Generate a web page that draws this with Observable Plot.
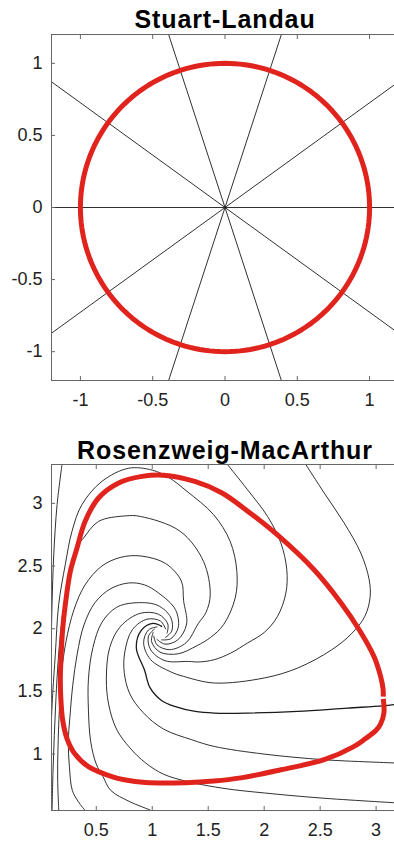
<!DOCTYPE html>
<html>
<head>
<meta charset="utf-8">
<script src="https://cdn.jsdelivr.net/npm/d3@7"></script>
<script src="https://cdn.jsdelivr.net/npm/@observablehq/plot@0.6"></script>
<style>
  html, body { margin: 0; padding: 0; background: #fff; }
  #fig { position: relative; width: 394px; height: 841px; overflow: hidden; background: #fff; }
  #fig svg { position: absolute; left: 0; max-width: none !important; background: transparent !important; }
  .title { position: absolute; left: 0; width: 450px; text-align: center; line-height: 25px;
           font: bold 25px "Liberation Sans", Arial, sans-serif; letter-spacing: 0.9px; color: #000; z-index: 2; }
</style>
</head>
<body>
<div id="fig"></div>
<script>
// ---------- Stuart-Landau ----------
const slTicks = [-1, -0.5, 0, 0.5, 1];
const slIsochronAngles = [0, 36, 72, 108, 144];   // degrees; isochrons are rays through the origin
const slCycleRadius = 1;                          // limit cycle r = 1

// ---------- Rosenzweig-MacArthur ----------
const rmXTicks = [0.5, 1, 1.5, 2, 2.5, 3];
const rmYTicks = [1, 1.5, 2, 2.5, 3];

// limit cycle, starting just below the phase-zero marker and running round to just above it
const rmCycle = [[3.064,1.44],[3.07,1.33],[3.04,1.24],[3.0,1.19],[2.90,1.12],[2.80,1.06],[2.536,0.955],
  [2.15,0.875],[1.79,0.81],[1.55,0.785],[1.30,0.772],[0.94,0.773],[0.75,0.795],[0.64,0.82],[0.43,0.90],
  [0.31,1.0],[0.24,1.12],[0.20,1.27],[0.183,1.45],[0.179,1.6],[0.186,1.79],[0.20,2.0],[0.223,2.19],
  [0.268,2.457],[0.328,2.644],[0.40,2.856],[0.52,3.043],[0.70,3.163],[0.908,3.215],[1.10,3.225],
  [1.38,3.175],[1.62,3.085],[1.85,2.94],[2.116,2.75],[2.446,2.47],[2.685,2.207],[2.85,1.99],
  [2.98,1.78],[3.04,1.62],[3.062,1.52],[3.064,1.458]];

const isoT2 = [[2.372,3.31],[2.536,3.083],[2.714,2.844],[2.863,2.604],[2.938,2.391],[2.946,2.25],[2.90,2.10],
  [2.78,1.96],[2.60,1.83],[2.298,1.686],[2.0,1.607],[1.554,1.567],[1.28,1.62],[1.163,1.657],[0.984,1.755],
  [0.923,1.889],[0.966,1.990],[1.043,2.015]];
const isoT1 = [[1.672,3.31],[1.851,3.109],[2.03,2.896],[2.149,2.684],[2.202,2.471],[2.194,2.285],[2.119,2.098],
  [2.0,1.97],[1.851,1.886],[1.702,1.806],[1.554,1.753],[1.42,1.735],[1.323,1.739],[1.114,1.745],[0.985,1.833],
  [0.966,1.940],[1.019,1.997]];
const isoO = [[0.098,1.25],[0.112,1.5],[0.134,1.793],[0.164,2.192],[0.223,2.511],[0.283,2.777],[0.372,2.99],
  [0.551,3.176],[0.789,3.28],[1.0,3.265],[1.15,3.205],[1.31,3.096],[1.548,2.91],[1.696,2.697],[1.756,2.457],
  [1.741,2.245],[1.637,2.032],[1.52,1.93],[1.40,1.865],[1.231,1.80],[1.07,1.813],[0.994,1.897],[1.008,1.970]];
const isoA = [[0.105,0.55],[0.113,0.85],[0.125,1.15],[0.14,1.45],[0.16,1.75],[0.185,2.0],[0.225,2.25],[0.285,2.5],
  [0.342,2.67],[0.387,2.724],[0.52,2.856],[0.76,2.90],[0.893,2.896],[1.25,2.777],[1.458,2.537],[1.518,2.271],
  [1.48,2.13],[1.41,2.04],[1.305,1.89],[1.155,1.833],[1.042,1.872],[1.014,1.941]];
const isoB3 = [[0.165,0.55],[0.155,0.8],[0.158,1.05],[0.17,1.35],[0.19,1.65],[0.23,1.90],[0.30,2.15],[0.40,2.35],
  [0.55,2.50],[0.72,2.57],[0.9,2.58],[1.12,2.52],[1.26,2.38],[1.28,2.224],[1.307,2.038],[1.228,1.911],
  [1.114,1.877],[1.042,1.915]];
const isoB2 = [[0.40,0.55],[0.34,0.62],[0.286,0.71],[0.26,0.90],[0.25,1.10],[0.265,1.30],[0.29,1.55],[0.33,1.80],
  [0.39,2.03],[0.49,2.21],[0.63,2.32],[0.79,2.365],[0.93,2.35],[1.058,2.284],[1.207,2.153],[1.232,2.009],
  [1.165,1.920],[1.083,1.911]];
const isoB1 = [[0.98,0.555],[0.80,0.62],[0.63,0.71],[0.56,0.82],[0.50,0.92],[0.45,1.1],[0.43,1.35],[0.43,1.6],
  [0.47,1.85],[0.55,2.05],[0.68,2.17],[0.836,2.206],[1.044,2.188],[1.165,2.091],[1.175,1.983],[1.118,1.930]];
const isoR3 = [[3.2,0.61],[2.5,0.65],[2.0,0.69],[1.65,0.725],[1.32,0.78],[1.1,0.84],[0.94,0.93],[0.80,1.05],
  [0.68,1.2],[0.61,1.4],[0.59,1.6],[0.62,1.85],[0.718,2.02],[0.893,2.123],[1.055,2.116],[1.139,2.038],
  [1.133,1.965]];
const isoR2 = [[3.2,0.928],[3.0,0.935],[2.536,0.955],[2.0,1.0],[1.554,1.061],[1.354,1.114],[1.1,1.20],[0.92,1.33],
  [0.80,1.48],[0.75,1.65],[0.755,1.815],[0.822,1.992],[0.954,2.076],[1.074,2.061],[1.119,1.999]];
const isoR1 = [[3.2,1.40],[3.06,1.385],[2.744,1.367],[2.298,1.34],[1.851,1.327],[1.554,1.327],[1.384,1.34],
  [1.2,1.38],[1.08,1.43],[0.98,1.53],[0.931,1.671],[0.858,1.847],[0.902,1.986],[1.006,2.042],[1.084,2.019]];
const isoL = [[0.194,3.31],[0.15,2.99],[0.12,2.59],[0.105,2.2],[0.098,1.9]];

const RED = "#e0241d";
const INK = "#1a1a1a";
const FRAME = "#666";
const FONT = "Liberation Sans, Arial, sans-serif";
const SVG_W = 420;               // plot area runs a little past the right window edge
const FRAME_L = 51, FRAME_R = 398;

function boxAxes(xt, yt) {
  const fmt = d => String(d);
  const common = {label: null, stroke: FRAME, fill: "#222", fontSize: 18, fontFamily: FONT};
  return [
    Plot.frame({stroke: FRAME, strokeWidth: 1}),
    Plot.axisX(xt, {...common, anchor: "bottom", tickSize: -4, tickPadding: 17, tickFormat: fmt}),
    Plot.axisX(xt, {...common, anchor: "top", tickSize: -4, tickFormat: () => ""}),
    Plot.axisY(yt, {...common, anchor: "left", tickSize: -4, tickPadding: 13, tickFormat: fmt}),
    Plot.axisY(yt, {...common, anchor: "right", tickSize: -4, tickFormat: () => ""})
  ];
}

const styleBase = {fontFamily: FONT, color: "#222", background: "transparent", overflow: "visible"};

// Stuart-Landau panel
const rad = Math.PI / 180;
const slRays = slIsochronAngles.flatMap(a => [-2, 2].map(s => ({a, x: s * Math.cos(a * rad), y: s * Math.sin(a * rad)})));
const slCycle = d3.range(0, 361, 2).map(t => ({x: slCycleRadius * Math.cos(t * rad), y: slCycleRadius * Math.sin(t * rad)}));

const sl = Plot.plot({
  width: SVG_W, height: 420,
  marginLeft: FRAME_L, marginRight: SVG_W - FRAME_R, marginTop: 34, marginBottom: 40,
  x: {domain: [-1.2, 1.2]},
  y: {domain: [-1.2, 1.2]},
  style: styleBase,
  marks: [
    Plot.line(slRays, {x: "x", y: "y", z: "a", stroke: INK, strokeWidth: 0.9, clip: true}),
    Plot.line(slCycle, {x: "x", y: "y", stroke: RED, strokeWidth: 5}),
    ...boxAxes(slTicks, slTicks)
  ]
});
sl.style.top = "0px";

// Rosenzweig-MacArthur panel
const isochrons = [
  ["T2", isoT2], ["T1", isoT1], ["O", isoO], ["A", isoA], ["B3", isoB3], ["B2", isoB2],
  ["B1", isoB1], ["R3", isoR3], ["R2", isoR2], ["R1", isoR1], ["L", isoL]
].flatMap(([id, pts]) => pts.map(([x, y]) => ({id, x, y})));

const rm = Plot.plot({
  width: SVG_W, height: 411,
  marginLeft: FRAME_L, marginRight: SVG_W - FRAME_R, marginTop: 34, marginBottom: 31,
  x: {domain: [0.1, 3.2]},
  y: {domain: [0.55, 3.31]},
  style: styleBase,
  marks: [
    Plot.line(isochrons, {x: "x", y: "y", z: "id", curve: "catmull-rom", stroke: INK,
      strokeWidth: d => d.id === "R1" ? 1.3 : 0.9, clip: true}),
    Plot.line(rmCycle, {x: d => d[0], y: d => d[1], curve: "catmull-rom", stroke: RED, strokeWidth: 5,
      strokeLinecap: "butt", clip: true}),
    ...boxAxes(rmXTicks, rmYTicks)
  ]
});
rm.style.top = "430px";

const fig = document.getElementById("fig");
fig.append(sl, rm);
for (const [text, top] of [["Stuart-Landau", 5], ["Rosenzweig-MacArthur", 436]]) {
  const t = document.createElement("div");
  t.className = "title";
  t.style.top = top + "px";
  t.textContent = text;
  fig.append(t);
}
</script>
</body>
</html>
